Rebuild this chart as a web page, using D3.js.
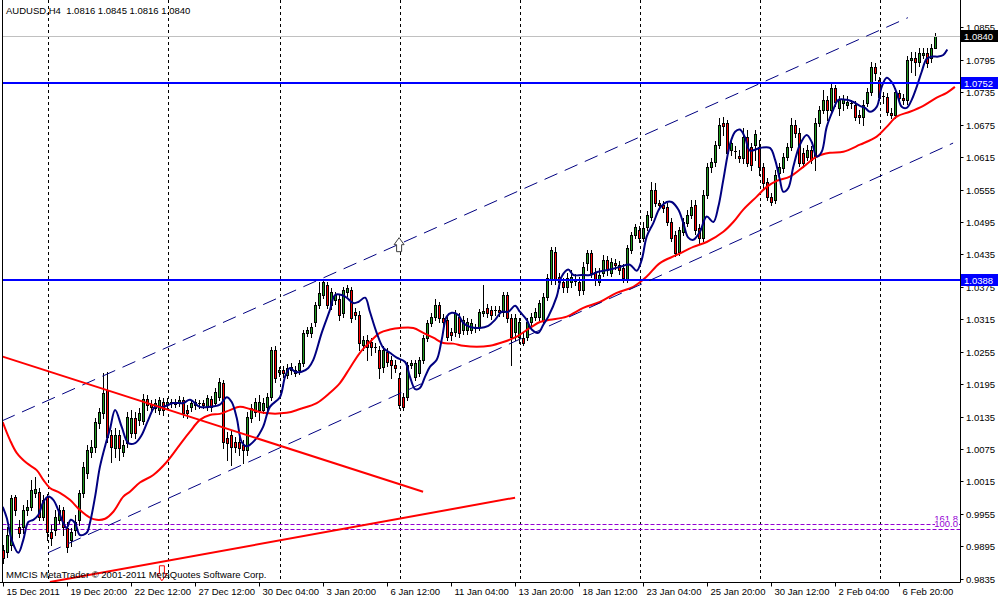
<!DOCTYPE html>
<html><head><meta charset="utf-8">
<script src="https://cdn.jsdelivr.net/npm/d3@7"></script>
<style>
body{margin:0;background:#fff}
svg{display:block}
text{font-family:"Liberation Sans",Arial,sans-serif;font-size:9.5px}
</style>
</head><body>
<svg id="chart" width="1000" height="600"></svg>
<script>
const symbolTitle = "AUDUSD,H4";
const lastOHLC = [1.0816, 1.0845, 1.0816, 1.0840];
const copyright = "MMCIS MetaTrader \u00a9 2001-2011 MetaQuotes Software Corp.";

// [open, high, low, close] per H4 bar
const candles = [
[0.9888,0.9898,0.9864,0.9874],[0.9885,0.9931,0.9875,0.9916],[0.9898,0.9990,0.9888,0.9985],[0.9987,0.9990,0.9953,0.9962],
[0.9931,0.9944,0.9913,0.9920],[0.9931,0.9972,0.9920,0.9962],[0.9962,0.9981,0.9953,0.9968],[0.9968,1.0018,0.9962,0.9999],
[0.9994,1.0024,0.9987,1.0001],[0.9996,1.0003,0.9944,0.9950],[0.9950,0.9990,0.9944,0.9981],[0.9987,0.9992,0.9907,0.9922],
[0.9922,0.9935,0.9898,0.9911],[0.9925,0.9962,0.9916,0.9950],[0.9944,0.9972,0.9938,0.9962],[0.9962,0.9968,0.9916,0.9931],
[0.9929,0.9940,0.9885,0.9894],[0.9907,0.9929,0.9896,0.9922],[0.9925,0.9953,0.9916,0.9940],[0.9944,0.9999,0.9935,0.9994],
[0.9994,1.0051,0.9987,1.0042],[1.0031,1.0083,1.0022,1.0073],[1.0070,1.0092,1.0061,1.0079],[1.0079,1.0133,1.0070,1.0125],
[1.0123,1.0151,1.0114,1.0144],[1.0142,1.0216,1.0133,1.0179],[1.0184,1.0218,1.0088,1.0098],[1.0101,1.0110,1.0051,1.0079],
[1.0077,1.0114,1.0061,1.0101],[1.0101,1.0110,1.0055,1.0077],[1.0070,1.0092,1.0062,1.0083],[1.0086,1.0144,1.0079,1.0134],
[1.0105,1.0147,1.0098,1.0133],[1.0133,1.0144,1.0096,1.0105],[1.0129,1.0151,1.0120,1.0142],[1.0127,1.0177,1.0122,1.0168],
[1.0168,1.0175,1.0147,1.0157],[1.0159,1.0166,1.0144,1.0153],[1.0151,1.0168,1.0144,1.0160],[1.0147,1.0171,1.0140,1.0166],
[1.0162,1.0170,1.0138,1.0147],[1.0159,1.0170,1.0151,1.0162],[1.0160,1.0168,1.0153,1.0162],[1.0162,1.0168,1.0153,1.0159],
[1.0160,1.0173,1.0155,1.0166],[1.0166,1.0171,1.0134,1.0142],[1.0147,1.0157,1.0133,1.0142],[1.0153,1.0166,1.0146,1.0160],
[1.0157,1.0168,1.0149,1.0162],[1.0159,1.0166,1.0151,1.0160],[1.0160,1.0166,1.0151,1.0157],[1.0153,1.0175,1.0147,1.0170],
[1.0168,1.0173,1.0146,1.0153],[1.0160,1.0188,1.0155,1.0181],[1.0171,1.0207,1.0166,1.0199],[1.0197,1.0203,1.0077,1.0088],
[1.0096,1.0107,1.0055,1.0086],[1.0101,1.0110,1.0046,1.0079],[1.0088,1.0098,1.0070,1.0079],[1.0088,1.0098,1.0064,1.0077],
[1.0083,1.0092,1.0049,1.0073],[1.0073,1.0144,1.0064,1.0134],[1.0133,1.0159,1.0125,1.0151],[1.0144,1.0170,1.0136,1.0162],
[1.0147,1.0175,1.0129,1.0162],[1.0147,1.0170,1.0142,1.0160],[1.0153,1.0179,1.0147,1.0171],[1.0171,1.0264,1.0166,1.0258],
[1.0258,1.0266,1.0199,1.0207],[1.0218,1.0227,1.0210,1.0222],[1.0222,1.0229,1.0209,1.0216],[1.0212,1.0233,1.0207,1.0225],
[1.0222,1.0234,1.0214,1.0227],[1.0222,1.0229,1.0210,1.0216],[1.0222,1.0240,1.0214,1.0234],[1.0234,1.0296,1.0229,1.0290],
[1.0290,1.0301,1.0284,1.0296],[1.0290,1.0308,1.0283,1.0301],[1.0310,1.0347,1.0303,1.0342],[1.0342,1.0384,1.0336,1.0364],
[1.0360,1.0390,1.0355,1.0384],[1.0379,1.0384,1.0336,1.0342],[1.0342,1.0373,1.0334,1.0366],[1.0351,1.0366,1.0344,1.0360],
[1.0353,1.0360,1.0314,1.0323],[1.0327,1.0375,1.0320,1.0370],[1.0366,1.0379,1.0358,1.0373],[1.0370,1.0375,1.0310,1.0318],
[1.0329,1.0336,1.0316,1.0323],[1.0323,1.0331,1.0258,1.0271],[1.0268,1.0284,1.0258,1.0277],[1.0277,1.0286,1.0240,1.0264],
[1.0273,1.0281,1.0249,1.0264],[1.0264,1.0271,1.0255,1.0262],[1.0258,1.0266,1.0207,1.0225],[1.0227,1.0266,1.0218,1.0258],
[1.0255,1.0262,1.0229,1.0236],[1.0240,1.0247,1.0207,1.0231],[1.0231,1.0240,1.0218,1.0225],[1.0207,1.0216,1.0151,1.0157],
[1.0171,1.0179,1.0147,1.0153],[1.0171,1.0236,1.0166,1.0231],[1.0231,1.0240,1.0225,1.0234],[1.0209,1.0240,1.0203,1.0234],
[1.0216,1.0246,1.0210,1.0240],[1.0240,1.0286,1.0234,1.0281],[1.0281,1.0314,1.0275,1.0308],[1.0308,1.0327,1.0303,1.0320],
[1.0320,1.0353,1.0314,1.0342],[1.0342,1.0347,1.0310,1.0318],[1.0318,1.0325,1.0303,1.0310],[1.0314,1.0321,1.0277,1.0283],
[1.0292,1.0299,1.0277,1.0286],[1.0292,1.0332,1.0284,1.0327],[1.0320,1.0327,1.0283,1.0290],[1.0296,1.0321,1.0288,1.0314],
[1.0296,1.0318,1.0288,1.0310],[1.0296,1.0316,1.0290,1.0308],[1.0297,1.0307,1.0292,1.0299],[1.0301,1.0334,1.0296,1.0329],
[1.0327,1.0379,1.0321,1.0331],[1.0336,1.0344,1.0320,1.0327],[1.0332,1.0340,1.0316,1.0323],[1.0332,1.0340,1.0323,1.0331],
[1.0332,1.0340,1.0321,1.0329],[1.0329,1.0366,1.0321,1.0360],[1.0360,1.0366,1.0310,1.0318],[1.0318,1.0325,1.0231,1.0283],
[1.0292,1.0325,1.0277,1.0318],[1.0283,1.0318,1.0271,1.0310],[1.0281,1.0290,1.0268,1.0271],[1.0283,1.0318,1.0277,1.0310],
[1.0310,1.0327,1.0305,1.0320],[1.0320,1.0336,1.0314,1.0329],[1.0320,1.0351,1.0314,1.0345],[1.0314,1.0364,1.0308,1.0357],
[1.0357,1.0399,1.0351,1.0392],[1.0388,1.0449,1.0381,1.0443],[1.0440,1.0449,1.0381,1.0388],[1.0394,1.0401,1.0373,1.0384],
[1.0384,1.0392,1.0366,1.0375],[1.0375,1.0401,1.0366,1.0392],[1.0384,1.0407,1.0375,1.0394],[1.0386,1.0399,1.0379,1.0390],
[1.0384,1.0394,1.0360,1.0370],[1.0370,1.0421,1.0362,1.0412],[1.0419,1.0443,1.0407,1.0438],[1.0438,1.0443,1.0394,1.0401],
[1.0403,1.0410,1.0379,1.0388],[1.0384,1.0410,1.0379,1.0397],[1.0401,1.0434,1.0395,1.0425],[1.0425,1.0432,1.0397,1.0407],
[1.0401,1.0429,1.0395,1.0421],[1.0419,1.0427,1.0408,1.0416],[1.0416,1.0423,1.0399,1.0407],[1.0410,1.0418,1.0384,1.0392],
[1.0388,1.0453,1.0384,1.0447],[1.0443,1.0477,1.0438,1.0471],[1.0471,1.0492,1.0466,1.0486],[1.0481,1.0488,1.0458,1.0466],
[1.0466,1.0495,1.0460,1.0484],[1.0486,1.0516,1.0481,1.0508],[1.0505,1.0569,1.0499,1.0555],[1.0555,1.0568,1.0525,1.0530],
[1.0530,1.0536,1.0519,1.0527],[1.0527,1.0534,1.0514,1.0521],[1.0523,1.0530,1.0490,1.0495],[1.0495,1.0503,1.0460,1.0466],
[1.0471,1.0479,1.0432,1.0438],[1.0440,1.0486,1.0434,1.0481],[1.0477,1.0503,1.0471,1.0495],[1.0493,1.0518,1.0488,1.0508],
[1.0508,1.0536,1.0503,1.0523],[1.0527,1.0536,1.0473,1.0481],[1.0484,1.0492,1.0456,1.0466],[1.0466,1.0555,1.0460,1.0545],
[1.0545,1.0604,1.0540,1.0597],[1.0597,1.0614,1.0588,1.0606],[1.0606,1.0645,1.0599,1.0638],[1.0638,1.0688,1.0632,1.0675],
[1.0678,1.0690,1.0656,1.0673],[1.0678,1.0684,1.0617,1.0623],[1.0628,1.0651,1.0619,1.0642],[1.0625,1.0636,1.0614,1.0627],
[1.0617,1.0628,1.0606,1.0614],[1.0614,1.0669,1.0604,1.0653],[1.0653,1.0666,1.0599,1.0604],[1.0634,1.0642,1.0591,1.0601],
[1.0638,1.0666,1.0610,1.0658],[1.0634,1.0647,1.0582,1.0597],[1.0597,1.0604,1.0558,1.0568],[1.0569,1.0577,1.0536,1.0542],
[1.0542,1.0549,1.0527,1.0532],[1.0536,1.0591,1.0530,1.0582],[1.0586,1.0604,1.0579,1.0597],[1.0595,1.0623,1.0588,1.0616],
[1.0616,1.0642,1.0610,1.0634],[1.0634,1.0688,1.0628,1.0675],[1.0675,1.0684,1.0653,1.0660],[1.0660,1.0669,1.0599,1.0604],
[1.0623,1.0632,1.0597,1.0604],[1.0616,1.0638,1.0610,1.0628],[1.0628,1.0636,1.0604,1.0610],[1.0616,1.0688,1.0591,1.0678],
[1.0678,1.0710,1.0673,1.0703],[1.0703,1.0740,1.0697,1.0721],[1.0721,1.0728,1.0684,1.0703],[1.0703,1.0752,1.0695,1.0743],
[1.0743,1.0749,1.0710,1.0717],[1.0706,1.0728,1.0693,1.0721],[1.0715,1.0730,1.0703,1.0723],[1.0712,1.0728,1.0706,1.0717],
[1.0715,1.0721,1.0706,1.0714],[1.0712,1.0719,1.0684,1.0690],[1.0693,1.0703,1.0678,1.0690],[1.0690,1.0721,1.0675,1.0712],
[1.0715,1.0743,1.0710,1.0736],[1.0736,1.0791,1.0730,1.0782],[1.0782,1.0789,1.0758,1.0771],[1.0758,1.0764,1.0721,1.0727],
[1.0728,1.0736,1.0715,1.0727],[1.0727,1.0734,1.0693,1.0699],[1.0697,1.0706,1.0688,1.0693],[1.0693,1.0743,1.0688,1.0736],
[1.0734,1.0740,1.0717,1.0725],[1.0725,1.0732,1.0714,1.0721],[1.0721,1.0802,1.0714,1.0795],[1.0795,1.0810,1.0773,1.0799],
[1.0799,1.0810,1.0767,1.0791],[1.0791,1.0817,1.0784,1.0808],[1.0804,1.0817,1.0799,1.0808],[1.0808,1.0817,1.0782,1.0789],
[1.0799,1.0825,1.0791,1.0817],[1.0816,1.0845,1.0816,1.0840]
];

// blue (fast) moving average, sampled as [bar, price]
const fastMA = [[0,0.9968],[1,0.9948],[2.25,0.9907],[3.9,0.9883],[5.15,0.9907],[6.4,0.9940],[7.65,0.9944],[8.9,0.9953],[10.15,0.9977],[11.4,0.9987],[12.65,0.9981],[13.9,0.9962],[15.15,0.9938],[16,0.9929],[17,0.9944],[18.1,0.9938],[19.3,0.9916],[21,0.9920],[21.8,0.9938],[23.1,0.9987],[24.3,1.0042],[25.8,1.0086],[26.8,1.0111],[28.1,1.0147],[29.75,1.0116],[31.4,1.0086],[33.1,1.0086],[34.75,1.0101],[36.4,1.0129],[38.1,1.0153],[40.15,1.0153],[42.65,1.0160],[45.15,1.0160],[46.8,1.0166],[49.3,1.0153],[51.8,1.0153],[54.3,1.0157],[56,1.0171],[57.25,1.0162],[58.5,1.0133],[59.75,1.0088],[61,1.0080],[63.1,1.0092],[65.1,1.0116],[66.8,1.0153],[69.3,1.0171],[70.6,1.0209],[71.8,1.0225],[73.1,1.0218],[74.75,1.0218],[76.4,1.0225],[77.65,1.0240],[79.75,1.0290],[81.8,1.0332],[83.1,1.0360],[84.75,1.0360],[86,1.0355],[87.65,1.0345],[88.9,1.0347],[90.6,1.0355],[91.8,1.0329],[93.5,1.0290],[95.15,1.0262],[96.8,1.0253],[98.5,1.0244],[100.6,1.0236],[101.8,1.0209],[103.1,1.0186],[104.3,1.0188],[105.6,1.0209],[106.8,1.0227],[108.5,1.0240],[109.75,1.0277],[111,1.0320],[112.25,1.0327],[113.9,1.0323],[115.15,1.0308],[116.8,1.0301],[119.3,1.0299],[121.4,1.0303],[123.1,1.0314],[124.75,1.0329],[126.4,1.0329],[128.1,1.0340],[129.3,1.0329],[131,1.0314],[132.25,1.0296],[133.9,1.0290],[135.15,1.0305],[136.4,1.0320],[138.5,1.0357],[139.75,1.0394],[141.4,1.0407],[142.65,1.0397],[144.75,1.0397],[146.8,1.0397],[148.9,1.0403],[151.8,1.0407],[154.3,1.0412],[156.8,1.0416],[158.5,1.0405],[159.75,1.0425],[161,1.0468],[162.65,1.0493],[164.3,1.0521],[166,1.0532],[167.25,1.0532],[168.9,1.0518],[170.15,1.0493],[171.4,1.0466],[172.65,1.0462],[174.3,1.0477],[176,1.0505],[177.65,1.0495],[178.9,1.0523],[180.15,1.0573],[181.8,1.0638],[183.1,1.0662],[184.3,1.0666],[185.6,1.0651],[186.8,1.0627],[189.3,1.0632],[191.8,1.0632],[193.1,1.0610],[194.3,1.0573],[195.15,1.0551],[196.4,1.0558],[197.65,1.0597],[199.3,1.0638],[201,1.0656],[202.25,1.0643],[203.5,1.0616],[204.75,1.0625],[206,1.0671],[207.65,1.0703],[208.9,1.0721],[211,1.0721],[212.65,1.0717],[214.3,1.0710],[215.6,1.0706],[216.8,1.0699],[218.5,1.0708],[219.75,1.0745],[221,1.0762],[222.25,1.0754],[223.5,1.0734],[224.75,1.0708],[226,1.0706],[227.25,1.0721],[228.5,1.0745],[229.75,1.0773],[231,1.0797],[232.25,1.0801],[233.9,1.0801],[235.15,1.0804],[236.15,1.0814]];

// red (slow) moving average, sampled as [bar, price]
const slowMA = [[0,1.0125],[1.8,1.0092],[3.5,1.0068],[6,1.0049],[8.5,1.0036],[10.15,1.0018],[11.8,1.0003],[14.3,0.9994],[16.8,0.9981],[19.3,0.9962],[21.8,0.9948],[23.5,0.9944],[25.6,0.9946],[27.65,0.9959],[30.15,0.9987],[31.8,0.9996],[34.3,1.0013],[37.65,1.0027],[41,1.0051],[44.3,1.0083],[46.8,1.0107],[49.3,1.0129],[51.8,1.0138],[54.3,1.0140],[56.8,1.0147],[59.3,1.0153],[61.8,1.0149],[65.15,1.0142],[71,1.0142],[74.3,1.0149],[78.5,1.0160],[81.8,1.0179],[84.3,1.0197],[86.8,1.0225],[89.3,1.0253],[91.8,1.0273],[94.3,1.0290],[96.8,1.0296],[99.3,1.0299],[102.65,1.0299],[105.15,1.0290],[107.65,1.0281],[110.15,1.0271],[112.65,1.0270],[115.15,1.0266],[118.5,1.0264],[121.8,1.0266],[125.15,1.0273],[128.5,1.0283],[131.8,1.0299],[134.3,1.0310],[136.8,1.0314],[141,1.0320],[145.15,1.0336],[149.3,1.0347],[153.5,1.0364],[157.65,1.0375],[161,1.0394],[164.3,1.0419],[168.5,1.0434],[172.65,1.0449],[176,1.0458],[180.15,1.0477],[182.65,1.0495],[185.15,1.0518],[188.5,1.0542],[191,1.0560],[193.5,1.0571],[196.8,1.0579],[200.15,1.0597],[203.5,1.0616],[206.8,1.0623],[210.15,1.0625],[214.3,1.0638],[218.5,1.0653],[221,1.0671],[223.5,1.0690],[226.8,1.0699],[230.15,1.0710],[233.5,1.0725],[236,1.0734],[238.05,1.0745]];

const dateLabels = ["15 Dec 2011","19 Dec 20:00","22 Dec 12:00","27 Dec 12:00","30 Dec 04:00","3 Jan 20:00","6 Jan 12:00","11 Jan 04:00","13 Jan 20:00","18 Jan 12:00","23 Jan 04:00","25 Jan 20:00","30 Jan 12:00","2 Feb 04:00","6 Feb 20:00"];
const dateLabelBars = [0,16,32,48,64,80,96,112,128,144,160,176,192,208,224];
const priceTicks = [0.9835,0.9895,0.9955,1.0015,1.0075,1.0135,1.0195,1.0255,1.0315,1.0375,1.0435,1.0495,1.0555,1.0615,1.0675,1.0735,1.0795,1.0855];
const separatorBars = [11.25,41.25,69.25,99.25,129.25,159.25,189.25,219.25];
const levelLines = [1.0752, 1.0388];
const bidPrice = 1.0840;
const channelUpper = [[-0.2,1.0127],[226.3,1.0873]];
const channelLower = [[11.3,0.9883],[237.6,1.0641]];
const trendLines = [[[0,1.0246],[105.1,0.9996]], [[11.8,0.9829],[128.1,0.9985]]];
const fibLevels = [{label:"161.8", price:0.99366}, {label:"100.0", price:0.99273}];
const arrowMarks = [{bar:39.8, price:0.9859, dir:"down", color:"#ff0000"}, {bar:99.1, price:1.0466, dir:"up", color:"#404040"}];

const svg = d3.select("#chart");
const plot = {left:2.5, right:960.5, top:0, bottom:582.5};
const x = d3.scaleLinear().domain([0, 239]).range([2.7, 958.7]);
const y = d3.scaleLinear().domain([0.9829, 1.0902]).range([582, 2]);
const px = v => Math.round(x(v)) + 0.5;
const py = v => Math.round(y(v)) + 0.5;

svg.append("defs").append("clipPath").attr("id","clip")
  .append("rect").attr("x",plot.left).attr("y",plot.top).attr("width",plot.right-plot.left).attr("height",plot.bottom-plot.top);
const g = svg.append("g").attr("clip-path","url(#clip)");

// period separators
g.selectAll(".sep").data(separatorBars).enter().append("line")
  .attr("x1",d=>Math.round(x(d))+0.5).attr("x2",d=>Math.round(x(d))+0.5)
  .attr("y1",0).attr("y2",plot.bottom)
  .attr("stroke","#000").attr("stroke-width",1).attr("stroke-dasharray","3,3");

// fib levels
fibLevels.forEach(f=>{
  g.append("line").attr("x1",plot.left).attr("x2",plot.right).attr("y1",py(f.price)).attr("y2",py(f.price))
   .attr("stroke","#9400d3").attr("stroke-width",1).attr("stroke-dasharray","4,2");
});

// candles
const cg = g.append("g");
candles.forEach((c,i)=>{
  const [o,h,l,cl] = c;
  const cx = px(i);
  cg.append("line").attr("x1",cx).attr("x2",cx).attr("y1",Math.round(y(h))).attr("y2",Math.round(y(l))+1)
    .attr("stroke","#000").attr("stroke-width",1);
  const yt = Math.round(y(Math.max(o,cl))), yb = Math.round(y(Math.min(o,cl)));
  if (yb - yt < 2) {
    cg.append("line").attr("x1",cx-1.5).attr("x2",cx+1.5).attr("y1",yt+0.5).attr("y2",yt+0.5)
      .attr("stroke","#000").attr("stroke-width",1);
  } else {
    cg.append("rect").attr("x",cx-1).attr("width",2).attr("y",yt+0.5).attr("height",yb-yt)
      .attr("fill", cl>=o ? "#1f9a1f" : "#ff0000").attr("stroke","#000").attr("stroke-width",1);
  }
});

// moving averages
const maLine = d3.line().x(d=>x(d[0])).y(d=>y(d[1])).curve(d3.curveCatmullRom.alpha(0.5));
g.append("path").attr("d",maLine(slowMA)).attr("fill","none").attr("stroke","#ff0000").attr("stroke-width",2);
g.append("path").attr("d",maLine(fastMA)).attr("fill","none").attr("stroke","#000080").attr("stroke-width",2);

// bid line
g.append("line").attr("x1",plot.left).attr("x2",plot.right).attr("y1",py(bidPrice)).attr("y2",py(bidPrice))
  .attr("stroke","#c0c0c0").attr("stroke-width",1);

// horizontal levels
levelLines.forEach(v=>{
  g.append("line").attr("x1",plot.left).attr("x2",plot.right).attr("y1",Math.round(y(v))).attr("y2",Math.round(y(v)))
   .attr("stroke","#0000ff").attr("stroke-width",2);
});

// channel
const straight = d3.line().x(d=>x(d[0])).y(d=>y(d[1]));
[channelUpper, channelLower].forEach(ch=>{
  g.append("path").attr("d",straight(ch)).attr("fill","none").attr("stroke","#000080").attr("stroke-width",1).attr("stroke-dasharray","14,8");
});

// trend lines
trendLines.forEach(t=>{
  g.append("path").attr("d",straight(t)).attr("fill","none").attr("stroke","#ff0000").attr("stroke-width",2);
});

// arrows
arrowMarks.forEach(a=>{
  const ax = x(a.bar), ay = y(a.price);
  let pts;
  if (a.dir==="down") {
    pts = [[ax-2.5,ay],[ax+2.5,ay],[ax+2.5,ay+8],[ax+5,ay+8],[ax,ay+15],[ax-5,ay+8],[ax-2.5,ay+8]];
  } else {
    pts = [[ax,ay],[ax+5,ay+7],[ax+2.5,ay+7],[ax+2.5,ay+14],[ax-2.5,ay+14],[ax-2.5,ay+7],[ax-5,ay+7]];
  }
  g.append("polygon").attr("points",pts.map(p=>p.join(",")).join(" "))
    .attr("fill","#fff").attr("stroke",a.color).attr("stroke-width",1);
});

// fib labels
fibLevels.forEach((f,i)=>{
  const ty = y(f.price) - 1.5;
  if (i===1) g.append("rect").attr("x",935).attr("y",ty-7).attr("width",24).attr("height",7.5).attr("fill","#fff");
  g.append("text").attr("x",958).attr("y",ty).attr("text-anchor","end").attr("fill","#9400d3").text(f.label);
});

// left border
svg.append("line").attr("x1",2.5).attr("x2",2.5).attr("y1",0).attr("y2",plot.bottom).attr("stroke","#000");

// axes
svg.append("line").attr("x1",plot.right).attr("x2",plot.right).attr("y1",0).attr("y2",plot.bottom).attr("stroke","#000");
svg.append("line").attr("x1",0).attr("x2",plot.right).attr("y1",plot.bottom).attr("y2",plot.bottom).attr("stroke","#000");

// price axis
priceTicks.forEach(v=>{
  const ty = py(v);
  svg.append("line").attr("x1",plot.right).attr("x2",plot.right+3).attr("y1",ty).attr("y2",ty).attr("stroke","#000");
  svg.append("text").attr("x",966).attr("y",ty+3.5).attr("fill","#000").text(d3.format(".4f")(v));
});

// date axis
dateLabelBars.forEach((b,i)=>{
  const tx = px(b);
  svg.append("line").attr("x1",tx).attr("x2",tx).attr("y1",plot.bottom).attr("y2",plot.bottom+4).attr("stroke","#000");
  svg.append("text").attr("x",tx+3).attr("y",595).attr("fill","#000").text(dateLabels[i]);
});

// price labels for lines
function priceBox(v, fill){
  const ty = Math.round(y(v));
  svg.append("rect").attr("x",961).attr("y",ty-6).attr("width",37).attr("height",12).attr("fill",fill);
  svg.append("text").attr("x",964).attr("y",ty+3.5).attr("fill","#fff").text(d3.format(".4f")(v));
}
levelLines.forEach(v=>priceBox(v,"#0000ff"));
priceBox(bidPrice,"#000");

// header + copyright
svg.append("text").attr("x",6).attr("y",14).attr("fill","#000").attr("xml:space","preserve")
  .text(symbolTitle + "  " + lastOHLC.map(d3.format(".4f")).join(" "));
svg.append("text").attr("x",6).attr("y",578).attr("fill","#000").text(copyright);
</script>
</body></html>
